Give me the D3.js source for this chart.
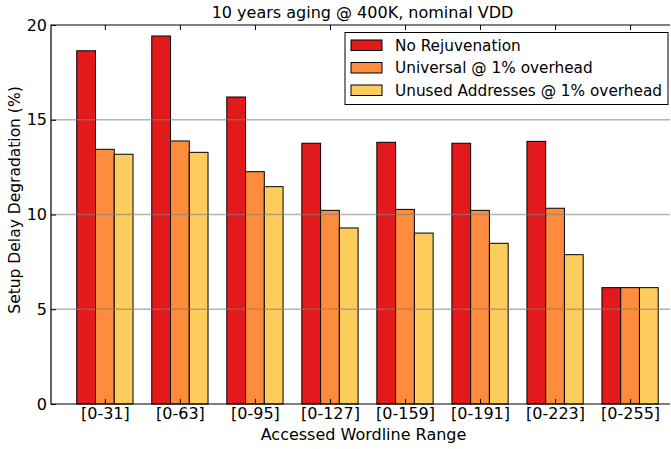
<!DOCTYPE html>
<html>
<head>
<meta charset="utf-8">
<script src="https://cdn.jsdelivr.net/npm/d3@7"></script>
<style>
  body { margin: 0; background: #fff; }
  text { font-family: "DejaVu Sans", sans-serif; fill: #000; }
</style>
</head>
<body>
<svg></svg>
<script>
let categories = ['[0-31]', '[0-63]', '[0-95]', '[0-127]', '[0-159]', '[0-191]', '[0-223]', '[0-255]']
let seriesNames = ['No Rejuvenation', 'Universal @ 1% overhead', 'Unused Addresses @ 1% overhead']
let noRejuvenation = [18.64, 19.42, 16.2, 13.76, 13.81, 13.76, 13.86, 6.14]
let universal = [13.44, 13.88, 12.26, 10.22, 10.27, 10.22, 10.33, 6.14]
let unusedAddresses = [13.18, 13.28, 11.47, 9.29, 9.02, 8.48, 7.88, 6.14]
let yTicks = [0, 5, 10, 15, 20]
let colors = ['#e31a1c', '#fd8d3c', '#fecc5c']

let width = 671
let height = 449
let plotLeft = 51
let plotRight = 670
let plotTop = 25
let plotBottom = 404

let svg = d3.select('svg').attr('width', width).attr('height', height)

let series = [noRejuvenation, universal, unusedAddresses]

// group i occupies [i + 0.343, i + 1.093) in x units
let xScale = d3.scaleLinear().domain([0, 8.25]).range([plotLeft, plotRight])
let yScale = d3.scaleLinear().domain([0, 20]).range([plotBottom, plotTop])
let barW = 0.25
let offset = 0.343

// bars
series.forEach((values, s) => {
    svg.append('g').selectAll('rect')
    .data(values)
    .enter()
    .append('rect')
    .attr('x', (d, i) => xScale(i + offset + s * barW))
    .attr('y', d => yScale(d))
    .attr('width', xScale(barW) - xScale(0))
    .attr('height', d => yScale(0) - yScale(d))
    .attr('fill', colors[s])
    .attr('stroke', '#000')
    .attr('stroke-width', 1)
})

// grid on top of bars
svg.append('g').selectAll('line')
.data(yTicks.filter(t => t > 0 && t < 20))
.enter()
.append('line')
.attr('x1', plotLeft).attr('x2', plotRight)
.attr('y1', d => yScale(d)).attr('y2', d => yScale(d))
.attr('stroke', '#808080').attr('stroke-opacity', 0.6).attr('stroke-width', 1.5)

// frame
svg.append('path')
.attr('d', `M${plotRight},${plotTop}H${plotLeft}V${plotBottom}H${plotRight}`)
.attr('fill', 'none').attr('stroke', '#000').attr('stroke-width', 1.2)

// y axis
let yAxis = d3.axisLeft(yScale).tickValues(yTicks).tickSize(-5).tickPadding(4)
let gy = svg.append('g').attr('transform', 'translate(' + plotLeft + ',0)').call(yAxis)
gy.select('.domain').remove()
gy.selectAll('text').style('font-size', '16px').attr('font-family', null)

// x axis bottom
let centers = categories.map((c, i) => i + offset + 1.5 * barW)
let xAxis = d3.axisBottom(xScale).tickValues(centers).tickFormat((d, i) => categories[i]).tickSize(-5).tickPadding(4)
let gx = svg.append('g').attr('transform', 'translate(0,' + plotBottom + ')').call(xAxis)
gx.select('.domain').remove()
gx.selectAll('text').style('font-size', '16px').attr('font-family', null)

// top ticks
let gt = svg.append('g').attr('transform', 'translate(0,' + plotTop + ')')
.call(d3.axisTop(xScale).tickValues(centers).tickFormat('').tickSize(-5))
gt.select('.domain').remove()

// titles
svg.append('text').attr('x', 362.5).attr('y', 18).attr('text-anchor', 'middle')
.style('font-size', '16px').text('10 years aging @ 400K, nominal VDD')
svg.append('text').attr('x', 363.5).attr('y', 440).attr('text-anchor', 'middle')
.style('font-size', '16px').text('Accessed Wordline Range')
svg.append('text').attr('transform', 'translate(20,200) rotate(-90)')
.attr('text-anchor', 'middle').style('font-size', '15.5px').text('Setup Delay Degradation (%)')

// legend
let lg = svg.append('g')
lg.append('rect').attr('x', 345).attr('y', 32.5).attr('width', 323).attr('height', 72)
.attr('fill', '#fff').attr('stroke', '#000').attr('stroke-width', 1)
seriesNames.forEach((name, s) => {
    let cy = 45 + s * 22.5
    lg.append('rect').attr('x', 351).attr('y', cy - 5).attr('width', 31).attr('height', 10.5)
    .attr('fill', colors[s]).attr('stroke', '#000').attr('stroke-width', 1)
    lg.append('text').attr('x', 395).attr('y', cy + 5.5).style('font-size', '15.3px').text(name)
})
</script>
</body>
</html>
